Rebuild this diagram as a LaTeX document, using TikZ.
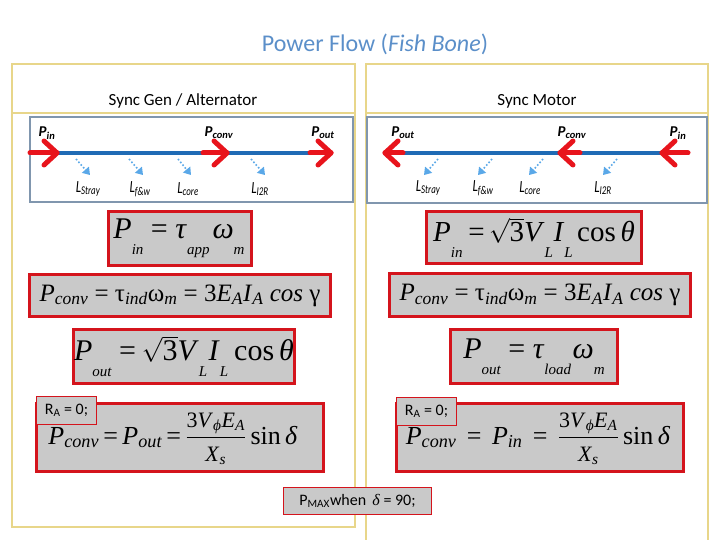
\documentclass[tikz,border=0pt]{standalone}
\usepackage{amsmath}
\usepackage{graphicx}
\usepackage{fontspec}
\setmainfont{Liberation Serif}
\newfontfamily\sansf{Carlito}
\usetikzlibrary{arrows.meta}
\definecolor{titleblue}{HTML}{5B8FC9}
\definecolor{panelyellow}{HTML}{E8D68A}
\definecolor{fishborder}{HTML}{8096AE}
\definecolor{lineblue}{HTML}{1F6BB5}
\definecolor{arrowred}{HTML}{E8141C}
\definecolor{lossblue}{HTML}{5AA8E8}
\definecolor{eqred}{HTML}{D4141C}
\definecolor{eqgray}{HTML}{C9C9C9}
\newcommand{\bsub}[1]{\raisebox{-0.52em}{\fontsize{15}{15}\selectfont\itshape #1}}
\newcommand{\tsub}[1]{\textsubscript{\itshape #1}}
\newcommand{\plab}[2]{{\sansf\bfseries\itshape\fontsize{15}{15}\selectfont #1\textsubscript{#2}}}
\newcommand{\llab}[1]{\scalebox{0.75}[1]{\sansf\itshape\fontsize{17}{17}\selectfont L\textsubscript{#1}}}
\tikzset{
  panel/.style={draw=panelyellow, line width=1.2pt},
  fishbox/.style={draw=fishborder, line width=2pt, fill=white},
  eqbox/.style={draw=eqred, line width=3pt, fill=eqgray, inner sep=0pt},
  notebox/.style={draw=eqred, line width=0.8pt, fill=eqgray, inner sep=0pt, font=\sansf\fontsize{16}{16}\selectfont},
  flow/.style={draw=lineblue, line width=4pt},
  redarrow/.style={draw=arrowred, line width=5pt, line cap=round, line join=round},
  loss/.style={draw=lossblue, line width=1.6pt, dotted, -{Triangle[length=7pt,width=9pt]}},
  hdr/.style={font=\sansf\fontsize{17}{17}\selectfont},
  formula/.style={inner sep=0pt}
}
\begin{document}
\begin{tikzpicture}[x=1pt,y=-1pt]
\useasboundingbox (0,0) rectangle (720,540);
% title
\node[text=titleblue, font=\sansf\fontsize{24}{24}\selectfont] (title) at (375,44) {Power Flow (\textit{Fish Bone})};
% panels
\draw[panel] (12,64) rectangle (355,527);
\draw[panel] (12,113) -- (355,113);
\draw[panel] (366,541) -- (366,64) -- (708,64) -- (708,541);
\draw[panel] (366,113) -- (708,113);
\node[hdr] (hl) at (183,101) {Sync Gen / Alternator};
\node[hdr] (hr) at (537,101) {Sync Motor};
% fishbone boxes
\draw[fishbox] (30,117) rectangle (353,202);
\draw[fishbox] (367,117) rectangle (707,203);
% ---------- left fishbone
\coordinate (la0) at (30,153); \coordinate (la1) at (57,153);
\coordinate (lb0) at (203,153); \coordinate (lb1) at (227,153);
\coordinate (lc0) at (310,153); \coordinate (lc1) at (331,153);
\draw[flow] (la1) -- (lc0);
\foreach \t/\h in {la0/la1, lb0/lb1, lc0/lc1}{
  \draw[redarrow] (\t) -- (\h);
  \draw[redarrow] ([shift={(-13,-12)}]\h) -- (\h) -- ([shift={(-13,12)}]\h);
}
\node (lpin) at (47,133) {\plab{P}{in}};
\node (lpconv) at (219,133) {\plab{P}{conv}};
\node (lpout) at (323,133) {\plab{P}{out}};
\foreach \a/\b in {76/90, 129/143, 178/191, 251/265}{
  \draw[loss] (\a,159) -- (\b,175);
}
\node (l1) at (88,189) {\llab{Stray}};
\node (l2) at (140,189) {\llab{f\&w}};
\node (l3) at (188,189) {\llab{core}};
\node (l4) at (260,189) {\llab{I2R}};
% ---------- right fishbone
\coordinate (ra0) at (403,153); \coordinate (ra1) at (385,153);
\coordinate (rb0) at (580,153); \coordinate (rb1) at (560,153);
\coordinate (rc0) at (688,153); \coordinate (rc1) at (662,153);
\draw[flow] (ra0) -- (rc1);
\foreach \t/\h in {ra0/ra1, rb0/rb1, rc0/rc1}{
  \draw[redarrow] (\t) -- (\h);
  \draw[redarrow] ([shift={(13,-12)}]\h) -- (\h) -- ([shift={(13,12)}]\h);
}
\node (rpout) at (403,133) {\plab{P}{out}};
\node (rpconv) at (572,133) {\plab{P}{conv}};
\node (rpin) at (678,133) {\plab{P}{in}};
\foreach \a/\b in {438/424, 492/478, 543/529, 617/603}{
  \draw[loss] (\a,159) -- (\b,175);
}
\node (r1) at (428,188) {\llab{Stray}};
\node (r2) at (483,188) {\llab{f\&w}};
\node (r3) at (530,188) {\llab{core}};
\node (r4) at (603,188) {\llab{I2R}};
% ---------- left equations
\node[eqbox, minimum width=143, minimum height=54] (L1) at (180,238.5) {};
\node[formula] (fL1) at ([xshift=-1]L1.center) {\fontsize{30}{30}\selectfont\textit{P}\bsub{in}\hspace{0.25em}=\hspace{0.25em}\textit{τ}\bsub{app}\hspace{0.1em}\textit{ω}\bsub{m}};
\node[eqbox, minimum width=301, minimum height=42] (L2) at (180,295.5) {};
\node[formula] (fL2) at (L2.center) {\fontsize{25}{25}\selectfont\textit{P}\tsub{conv} = τ\tsub{ind}ω\tsub{m} = 3\textit{E}\tsub{A}\textit{I}\tsub{A} \textit{cos} γ};
\node[eqbox, minimum width=221, minimum height=54] (L3) at (184,356.5) {};
\node[formula] (fL3) at (L3.center) {\fontsize{30}{30}\selectfont\textit{P}\bsub{out}\hspace{0.25em}=\hspace{0.2em}$\sqrt{\text{3}}$\textit{V}\bsub{L}\hspace{0.05em}\textit{I}\bsub{L}\hspace{0.2em}cos\,\textit{θ}};
\node[eqbox, minimum width=287, minimum height=68] (L4) at (180,437.5) {};
\node[formula] (fL4) at ([xshift=-7,yshift=-1]L4.center) {\fontsize{26}{26}\selectfont\textit{P}\tsub{conv}\,=\,\textit{P}\tsub{out}\,=\,$\dfrac{\text{\fontsize{22}{22}\selectfont 3\textit{V}\tsub{ϕ}\textit{E}\tsub{A}}}{\text{\fontsize{22}{22}\selectfont\textit{X}\tsub{s}}}$\,sin\,\textit{δ}};
\node[notebox, minimum width=60, minimum height=28] (LRA) at (66.5,410.5) {R\textsubscript{A} = 0;};
% ---------- right equations
\node[eqbox, minimum width=215, minimum height=52] (R1) at (534,237.5) {};
\node[formula] (fR1) at (R1.center) {\fontsize{29}{29}\selectfont\textit{P}\bsub{in}\hspace{0.2em}=\hspace{0.15em}$\sqrt{\text{3}}$\textit{V}\bsub{L}\hspace{0.02em}\textit{I}\bsub{L}\hspace{0.15em}cos\,\textit{θ}};
\node[eqbox, minimum width=301, minimum height=43] (R2) at (540,295) {};
\node[formula] (fR2) at (R2.center) {\fontsize{25}{25}\selectfont\textit{P}\tsub{conv} = τ\tsub{ind}ω\tsub{m} = 3\textit{E}\tsub{A}\textit{I}\tsub{A} \textit{cos} γ};
\node[eqbox, minimum width=167, minimum height=54] (R3) at (534,356.5) {};
\node[formula] (fR3) at (R3.center) {\fontsize{30}{30}\selectfont\textit{P}\bsub{out}\hspace{0.25em}=\hspace{0.25em}\textit{τ}\bsub{load}\hspace{0.05em}\textit{ω}\bsub{m}};
\node[eqbox, minimum width=287, minimum height=68] (R4) at (540,437.5) {};
\node[formula] (fR4) at ([xshift=-2,yshift=-1]R4.center) {\fontsize{26}{26}\selectfont\textit{P}\tsub{conv}\hspace{0.4em}=\hspace{0.4em}\textit{P}\tsub{in}\hspace{0.4em}=\hspace{0.4em}$\dfrac{\text{\fontsize{22}{22}\selectfont 3\textit{V}\tsub{ϕ}\textit{E}\tsub{A}}}{\text{\fontsize{22}{22}\selectfont\textit{X}\tsub{s}}}$\,sin\,\textit{δ}};
\node[notebox, minimum width=60, minimum height=28] (RRA) at (426.5,411.5) {R\textsubscript{A} = 0;};
% PMAX
\node[notebox, minimum width=148, minimum height=27] (pmax) at (357.5,501) {P\textsubscript{MAX}when \,{\rmfamily\itshape δ} = 90;};
\end{tikzpicture}
\end{document}
